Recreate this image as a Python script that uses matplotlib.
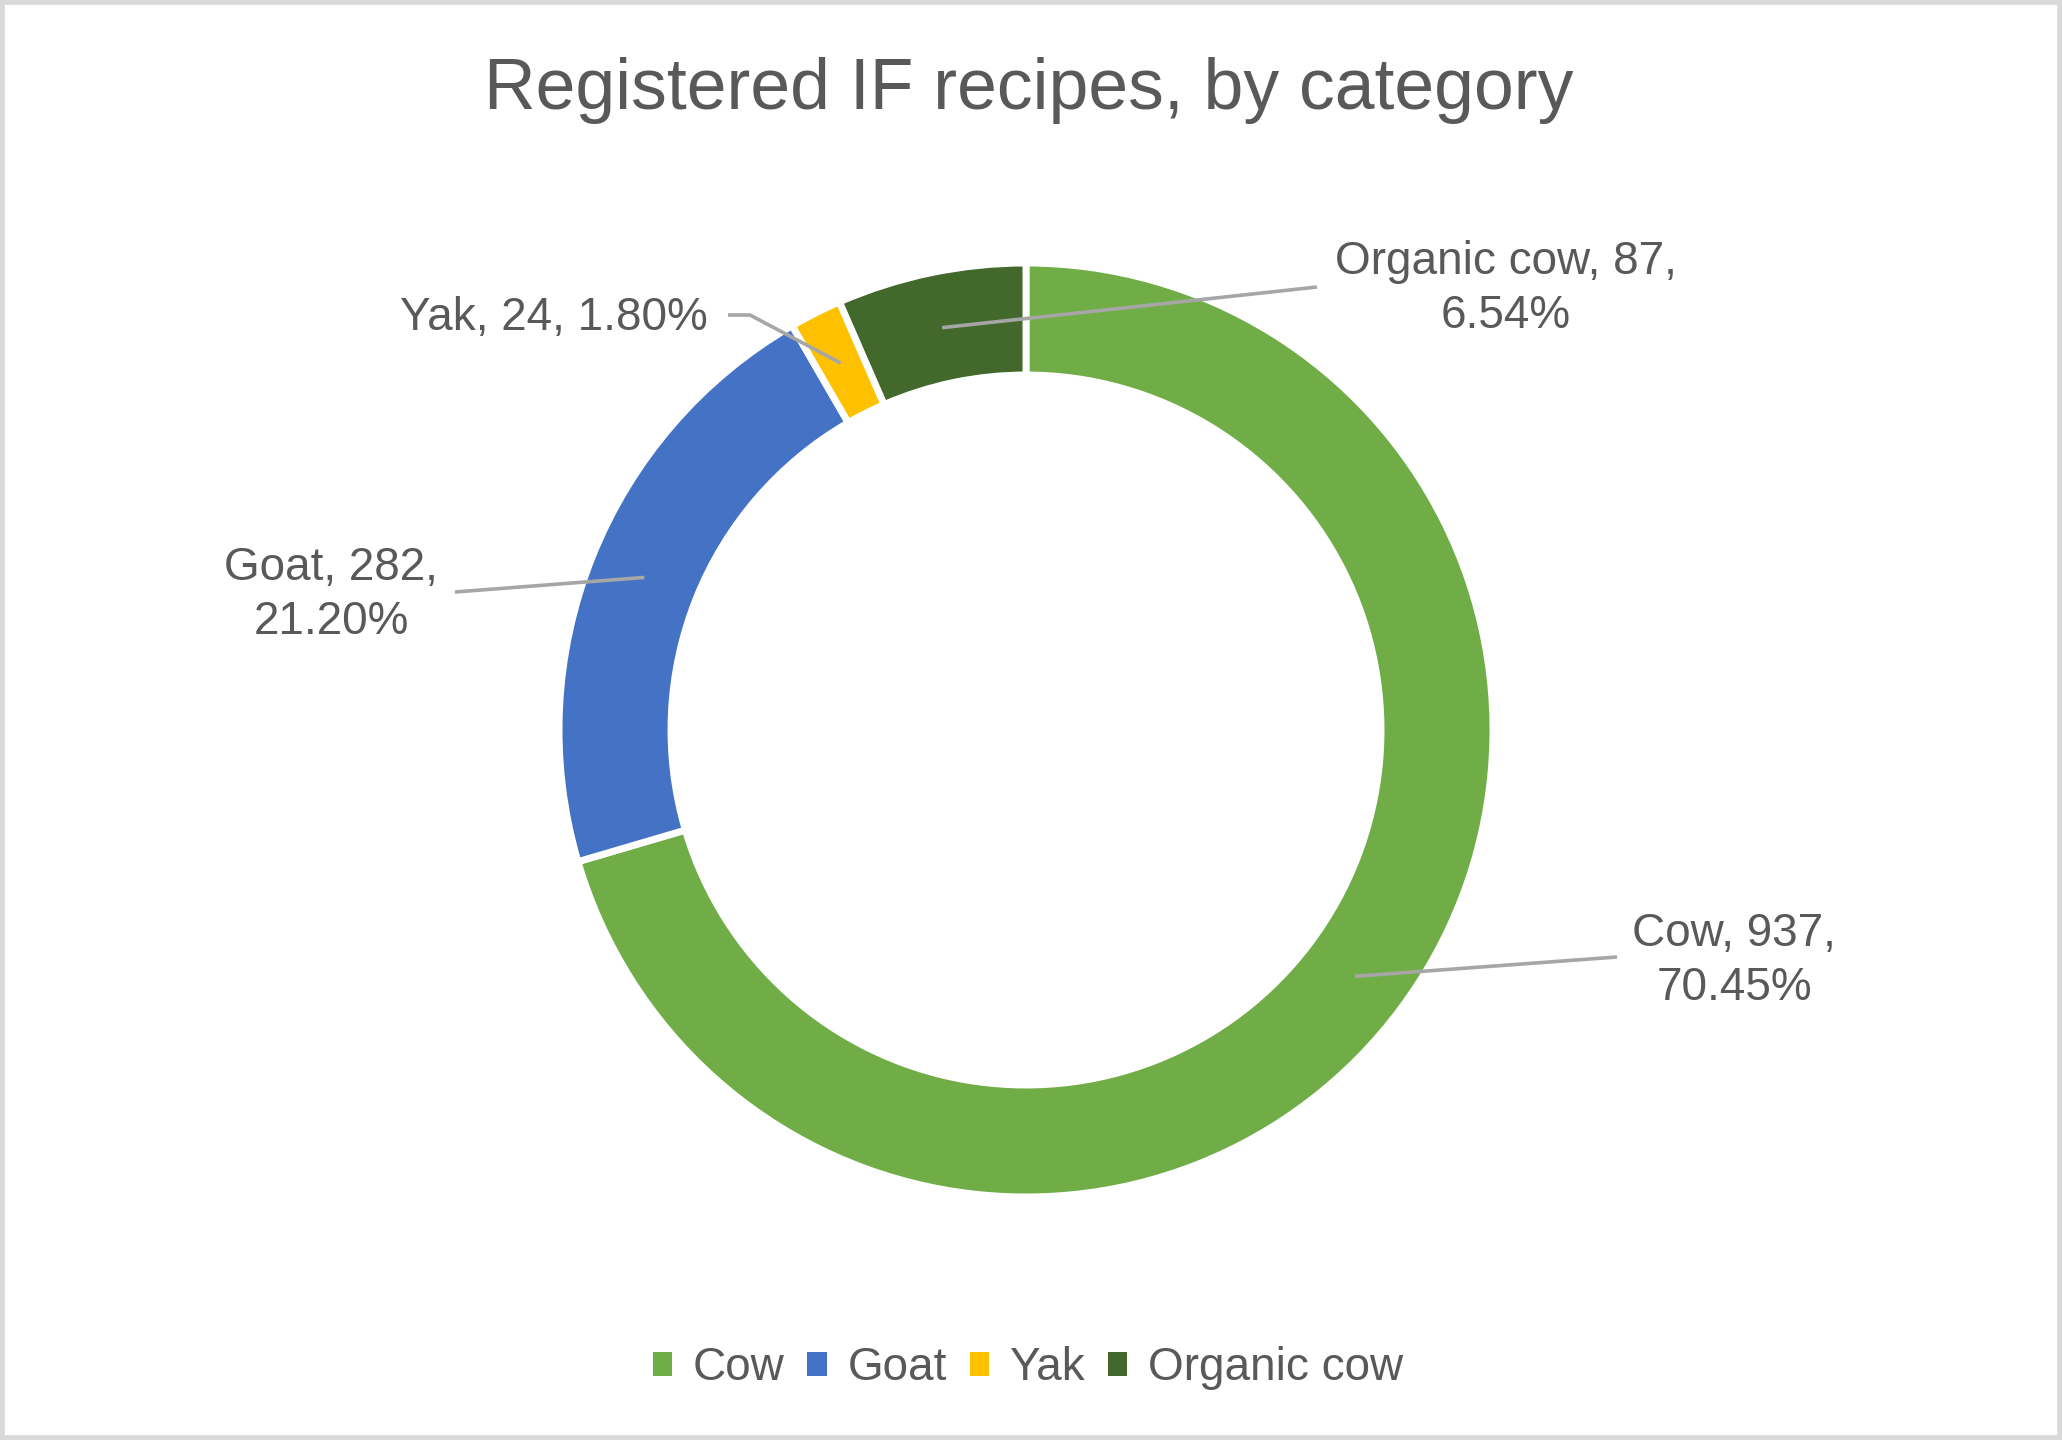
import matplotlib
matplotlib.use("Agg")
import matplotlib.pyplot as plt
import numpy as np
from matplotlib.patches import Patch, Rectangle

# ---- data ----
title = "Registered IF recipes, by category"
categories = ["Cow", "Goat", "Yak", "Organic cow"]
values = [937, 282, 24, 87]
colors = ["#70AD47", "#4472C4", "#FFC000", "#43682B"]

W, H = 2062, 1440
plt.rcParams['font.family'] = ['Liberation Sans', 'DejaVu Sans']
TXT = "#595959"
LEAD = "#A6A6A6"

fig = plt.figure(figsize=(W / 100, H / 100), dpi=100)
fig.patch.set_facecolor("white")
ax = fig.add_axes([0, 0, 1, 1])

cx, cy, R, ring = 1026, 710, 467, 112
wedges, _ = ax.pie(values, colors=colors, startangle=90, counterclock=False,
                   center=(cx, cy), radius=R,
                   wedgeprops=dict(width=ring, edgecolor="white", linewidth=5))
ax.set_xlim(0, W)
ax.set_ylim(0, H)
ax.set_aspect("auto")
ax.axis("off")

total = sum(values)
pcts = [v / total * 100 for v in values]

# label layout: (text x, text y, ha, leader end points list, multiline)
layout = {
    "Cow": dict(tx=1734, ty=479, ha="center", pts=[(1617, 483)], sep="\n"),
    "Goat": dict(tx=331, ty=845, ha="center", pts=[(455, 848)], sep="\n"),
    "Yak": dict(tx=708, ty=1122, ha="right", pts=[(728, 1125), (750, 1125)], sep=" "),
    "Organic cow": dict(tx=1506, ty=1151, ha="center", pts=[(1317, 1153)], sep="\n"),
}

for w, cat, v, p in zip(wedges, categories, values, pcts):
    mid = np.deg2rad((w.theta1 + w.theta2) / 2)
    rm = R - ring / 2
    sx, sy = cx + rm * np.cos(mid), cy + rm * np.sin(mid)
    L = layout[cat]
    pts = [(sx, sy)] + list(reversed(L["pts"]))
    xs = [q[0] for q in pts]
    ys = [q[1] for q in pts]
    ax.plot(xs, ys, color=LEAD, lw=2.6, solid_capstyle="butt", zorder=5)
    label = f"{cat}, {v},{L['sep']}{p:.2f}%"
    ax.text(L["tx"], L["ty"], label, ha=L["ha"], va="center", ma="center",
            fontsize=33, color=TXT, linespacing=1.3, zorder=6)

# title
fig.text(1029 / W, 1 - 91 / H, title, ha="center", va="center",
         fontsize=51.5, color=TXT)

# legend
handles = [Patch(facecolor=c, edgecolor="none") for c in colors]
leg = fig.legend(handles, categories, loc="center", ncol=4,
                 bbox_to_anchor=(1028 / W, 1 - 1368 / H), frameon=False,
                 fontsize=33, handlelength=0.42, handleheight=0.42,
                 handletextpad=0.45, columnspacing=0.5, borderpad=0)
for t in leg.get_texts():
    t.set_color(TXT)

# chart border
fig.patches.append(Rectangle((0, 0), 1, 1, transform=fig.transFigure,
                             facecolor="none", edgecolor="#D9D9D9",
                             linewidth=7, zorder=10))

fig.savefig("out.png", dpi=100, facecolor="white")
